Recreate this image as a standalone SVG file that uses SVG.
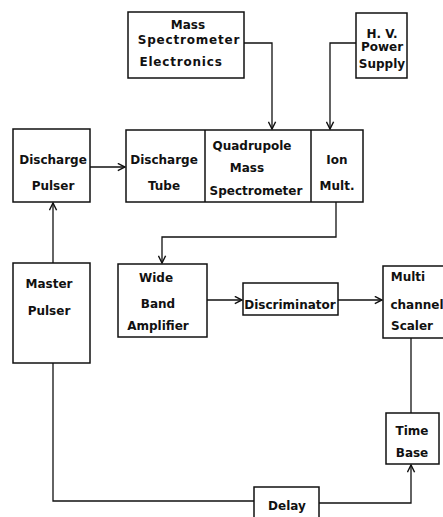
<svg xmlns="http://www.w3.org/2000/svg" width="443" height="517" viewBox="0 0 443 517">
<style>
.box{fill:none;stroke:#111;stroke-width:1.5}
.ln{fill:none;stroke:#111;stroke-width:1.3}
text{font-family:"DejaVu Sans","Liberation Sans",sans-serif;font-weight:bold;font-size:12px;fill:#111;text-anchor:middle}
</style>
<defs>
<marker id="ah" viewBox="0 0 10 10" refX="9" refY="5" markerWidth="9" markerHeight="9" markerUnits="userSpaceOnUse" orient="auto">
<path d="M1,1 L9,5 L1,9" fill="none" stroke="#111" stroke-width="1.6"/>
</marker>
</defs>
<rect width="443" height="517" fill="#fff"/>
<g id="connectors">
<path class="ln" d="M244,43 H272 V129" marker-end="url(#ah)"/>
<path class="ln" d="M356,43 H330 V129" marker-end="url(#ah)"/>
<path class="ln" d="M90,167 H125" marker-end="url(#ah)"/>
<path class="ln" d="M53,263 V203" marker-end="url(#ah)"/>
<path class="ln" d="M336,202 V237 H162 V263" marker-end="url(#ah)"/>
<path class="ln" d="M207,300 H242" marker-end="url(#ah)"/>
<path class="ln" d="M338,300 H382" marker-end="url(#ah)"/>
<path class="ln" d="M411,338 V413"/>
<path class="ln" d="M53,363 V501 H254"/>
<path class="ln" d="M319,503 H411 V465" marker-end="url(#ah)"/>
</g>
<g id="mass-spec-electronics">
<rect class="box" x="128" y="12" width="116" height="66"/>
<text x="188" y="29">Mass</text>
<text x="189" y="44" letter-spacing="0.8">Spectrometer</text>
<text x="181" y="66" letter-spacing="0.8">Electronics</text>
</g>
<g id="hv-power-supply">
<rect class="box" x="356" y="13" width="51" height="65"/>
<text x="382" y="38">H. V.</text>
<text x="382" y="51">Power</text>
<text x="382" y="68">Supply</text>
</g>
<g id="discharge-pulser">
<rect class="box" x="13" y="129" width="77" height="73"/>
<text x="53" y="164">Discharge</text>
<text x="53" y="190">Pulser</text>
</g>
<g id="main-block">
<rect class="box" x="126" y="130" width="237" height="72"/>
<line class="box" x1="205" y1="130" x2="205" y2="202"/>
<line class="box" x1="311" y1="130" x2="311" y2="202"/>
</g>
<g id="discharge-tube">
<text x="164" y="164">Discharge</text>
<text x="164" y="190">Tube</text>
</g>
<g id="quadrupole">
<text x="252" y="150">Quadrupole</text>
<text x="247" y="172">Mass</text>
<text x="256" y="195">Spectrometer</text>
</g>
<g id="ion-mult">
<text x="337" y="164">Ion</text>
<text x="337" y="190">Mult.</text>
</g>
<g id="master-pulser">
<rect class="box" x="13" y="263" width="77" height="100"/>
<text x="49" y="288">Master</text>
<text x="49" y="315">Pulser</text>
</g>
<g id="wide-band-amplifier">
<rect class="box" x="118" y="264" width="89" height="73"/>
<text x="156" y="282">Wide</text>
<text x="158" y="308">Band</text>
<text x="158" y="330">Amplifier</text>
</g>
<g id="discriminator">
<rect class="box" x="243" y="283" width="95" height="32"/>
<text x="290" y="309">Discriminator</text>
</g>
<g id="multichannel-scaler">
<rect class="box" x="383" y="266" width="64" height="72"/>
<text x="408" y="281">Multi</text>
<text x="417" y="309">channel</text>
<text x="412" y="330">Scaler</text>
</g>
<g id="time-base">
<rect class="box" x="386" y="413" width="53" height="51"/>
<text x="412" y="435">Time</text>
<text x="412" y="457">Base</text>
</g>
<g id="delay">
<rect class="box" x="254" y="487" width="65" height="40"/>
<text x="287" y="510">Delay</text>
</g>
</svg>
